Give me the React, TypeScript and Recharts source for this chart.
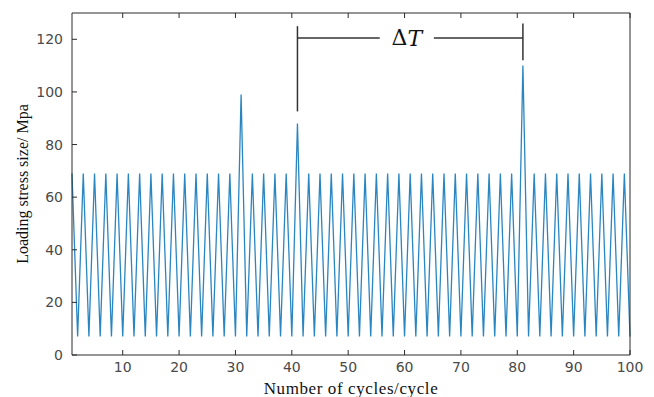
import React from "react";
import {
  LineChart,
  Line,
  XAxis,
  YAxis,
  ReferenceLine,
  ReferenceDot,
} from "recharts";

const cycles = [
  1, 2, 3, 4, 5, 6, 7, 8, 9, 10, 11, 12, 13, 14, 15, 16, 17, 18, 19, 20,
  21, 22, 23, 24, 25, 26, 27, 28, 29, 30, 31, 32, 33, 34, 35, 36, 37, 38, 39, 40,
  41, 42, 43, 44, 45, 46, 47, 48, 49, 50, 51, 52, 53, 54, 55, 56, 57, 58, 59, 60,
  61, 62, 63, 64, 65, 66, 67, 68, 69, 70, 71, 72, 73, 74, 75, 76, 77, 78, 79, 80,
  81, 82, 83, 84, 85, 86, 87, 88, 89, 90, 91, 92, 93, 94, 95, 96, 97, 98, 99, 100,
];

const stress = [
  69, 7, 69, 7, 69, 7, 69, 7, 69, 7, 69, 7, 69, 7, 69, 7, 69, 7, 69, 7,
  69, 7, 69, 7, 69, 7, 69, 7, 69, 7, 99, 7, 69, 7, 69, 7, 69, 7, 69, 7,
  88, 7, 69, 7, 69, 7, 69, 7, 69, 7, 69, 7, 69, 7, 69, 7, 69, 7, 69, 7,
  69, 7, 69, 7, 69, 7, 69, 7, 69, 7, 69, 7, 69, 7, 69, 7, 69, 7, 69, 7,
  110, 7, 69, 7, 69, 7, 69, 7, 69, 7, 69, 7, 69, 7, 69, 7, 69, 7, 69, 7,
];

const xTicks = [10, 20, 30, 40, 50, 60, 70, 80, 90, 100];
const yTicks = [0, 20, 40, 60, 80, 100, 120];

// ΔT bracket, in data units
const deltaStart = 41;
const deltaEnd = 81;
const bracketY = 120.5;
const deltaLabelX = 60.4;

const data = cycles.map((c, i) => ({ cycle: c, stress: stress[i] }));

const axisColor = "#2b2b2b";
const tickFont = { fontSize: 14, fill: "#4a4a4a", fontFamily: "DejaVu Sans" };

export default function App() {
  return (
    <div style={{ position: "absolute", left: 0, top: 0, background: "#fff" }}>
      <LineChart
        width={654}
        height={397}
        data={data}
        margin={{ top: 12, right: 23, left: 0, bottom: 0 }}
      >
        <XAxis
          xAxisId="main"
          dataKey="cycle"
          type="number"
          domain={[1, 100]}
          ticks={xTicks}
          height={42}
          tickSize={-5}
          tickMargin={12}
          tick={tickFont}
          stroke={axisColor}
          label={{
            value: "Number of cycles/cycle",
            position: "insideBottom",
            offset: 3,
            style: {
              fontFamily: "Liberation Serif",
              fontSize: 17,
              letterSpacing: 0.6,
              fill: "#111",
            },
          }}
        />
        <XAxis
          xAxisId="top"
          orientation="top"
          dataKey="cycle"
          type="number"
          domain={[1, 100]}
          ticks={xTicks}
          height={1}
          tickSize={-5}
          tickMargin={0}
          tick={{ fontSize: 1, fill: "none" }}
          tickFormatter={() => ""}
          stroke={axisColor}
        />
        <YAxis
          yAxisId="main"
          type="number"
          domain={[0, 130]}
          ticks={yTicks}
          width={72}
          tickSize={-5}
          tickMargin={14}
          tick={tickFont}
          stroke={axisColor}
          label={{
            content: (props: any) => {
              const vb = props.viewBox;
              const cy = vb.y + vb.height / 2;
              return (
                <text
                  x={22}
                  y={cy}
                  transform={`rotate(-90, 22, ${cy})`}
                  textAnchor="middle"
                  dominantBaseline="central"
                  fontFamily="Liberation Serif"
                  fontSize={16}
                  fill="#111"
                >
                  Loading stress size/ Mpa
                </text>
              );
            },
          }}
        />
        <YAxis
          yAxisId="right"
          orientation="right"
          type="number"
          domain={[0, 130]}
          ticks={yTicks}
          width={1}
          tickSize={-5}
          tickMargin={0}
          tick={{ fontSize: 1, fill: "none" }}
          tickFormatter={() => ""}
          stroke={axisColor}
        />
        <Line
          xAxisId="main"
          yAxisId="main"
          type="linear"
          dataKey="stress"
          stroke="#2a86c0"
          strokeWidth={1.3}
          dot={false}
          isAnimationActive={false}
        />
        <ReferenceLine
          xAxisId="main"
          yAxisId="main"
          segment={[
            { x: deltaStart, y: 92.6 },
            { x: deltaStart, y: 125 },
          ]}
          stroke="#333"
          strokeWidth={1.5}
        />
        <ReferenceLine
          xAxisId="main"
          yAxisId="main"
          segment={[
            { x: deltaEnd, y: 112 },
            { x: deltaEnd, y: 126 },
          ]}
          stroke="#333"
          strokeWidth={1.5}
        />
        <ReferenceLine
          xAxisId="main"
          yAxisId="main"
          segment={[
            { x: deltaStart, y: bracketY },
            { x: 55.6, y: bracketY },
          ]}
          stroke="#333"
          strokeWidth={1.5}
        />
        <ReferenceLine
          xAxisId="main"
          yAxisId="main"
          segment={[
            { x: 65.2, y: bracketY },
            { x: deltaEnd, y: bracketY },
          ]}
          stroke="#333"
          strokeWidth={1.5}
        />
        <ReferenceDot
          xAxisId="main"
          yAxisId="main"
          x={deltaLabelX}
          y={bracketY}
          r={0}
          fill="none"
          stroke="none"
          label={{
            content: (props: any) => {
              const vb = props.viewBox;
              return (
                <text
                  x={vb.x + (vb.width || 0) / 2}
                  y={vb.y + (vb.height || 0) / 2}
                  textAnchor="middle"
                  dominantBaseline="central"
                  fontFamily="DejaVu Serif"
                  fontSize={22}
                  fill="#111"
                >
                  Δ<tspan fontStyle="italic">T</tspan>
                </text>
              );
            },
          }}
        />
      </LineChart>
    </div>
  );
}
